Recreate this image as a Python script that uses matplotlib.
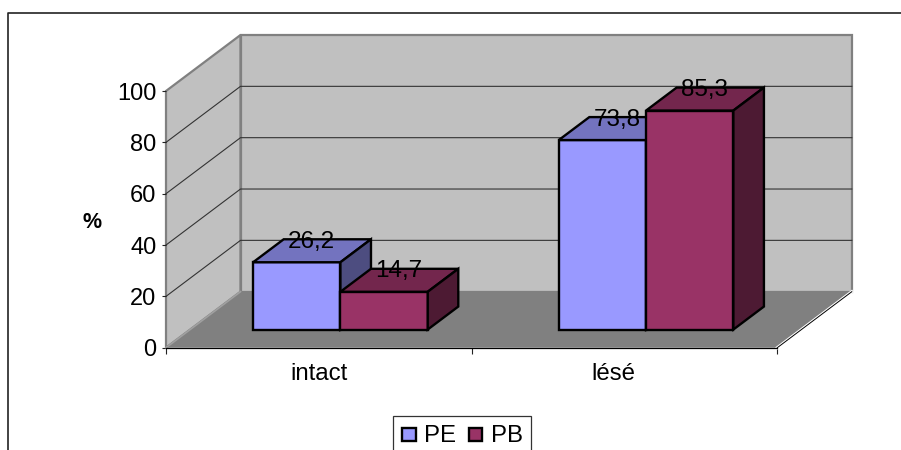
import matplotlib
matplotlib.use("Agg")
import matplotlib.pyplot as plt
from matplotlib.patches import Polygon, Rectangle
from matplotlib.lines import Line2D

plt.rcParams['font.family'] = ['Liberation Sans', 'DejaVu Sans']

categories = ['intact', 'lésé']
series_names = ['PE', 'PB']
pe_values = [26.2, 73.8]
pb_values = [14.7, 85.3]
value_labels_pe = ['26,2', '73,8']
value_labels_pb = ['14,7', '85,3']
y_ticks = [0, 20, 40, 60, 80, 100]

W, H = 901, 450
fig = plt.figure(figsize=(W / 100, H / 100), dpi=100)
L, R, T, B = 166, 777.3, 91, 347.7
ax = fig.add_axes([L / W, 1 - B / H, (R - L) / W, (B - T) / H])
ax.set_xlim(0, 2)
ax.set_ylim(0, 100)

PX = (R - L) / 2        # px per category
PY = (B - T) / 100      # px per value unit
DX, DY = 74.5, 56       # full depth in pixels


def proj(x, y, d=0.0):
    return (x + d * DX / PX, y + d * DY / PY)


def poly(points, face, edge='none', lw=0, z=1):
    ax.add_patch(Polygon(points, closed=True, facecolor=face, edgecolor=edge,
                         linewidth=lw, joinstyle='miter', clip_on=False, zorder=z))


WALL, FLOOR, GRID = '#C0C0C0', '#808080', '#333333'
# walls
poly([proj(0, 0), proj(0, 0, 1), proj(0, 100, 1), proj(0, 100)], WALL, FLOOR, 1.6, 1)
poly([proj(0, 0, 1), proj(2, 0, 1), proj(2, 100, 1), proj(0, 100, 1)], WALL, FLOOR, 1.6, 1)
# gridlines
for v in y_ticks[1:-1]:
    p = [proj(0, v), proj(0, v, 1), proj(2, v, 1)]
    ax.plot(*zip(*p), color=GRID, lw=0.8, clip_on=False, zorder=1.5)
# floor
poly([proj(0, 0), proj(0, 0, 1), proj(2, 0, 1), proj(2, 0)], FLOOR, z=2)
ax.plot(*zip(proj(0, 0), proj(0, 0, 1)), color='#A0A0A0', lw=1.2, clip_on=False, zorder=2.1)
ax.plot(*zip(proj(0, 0), proj(2, 0)), color='black', lw=0.9, clip_on=False, zorder=2.2)
ax.plot(*zip(proj(2, 0), proj(2, 0, 1)), color='white', lw=2.2, clip_on=False, zorder=2.1)
ax.plot(*zip(proj(2, 0), proj(2, 0, 1)), color='black', lw=0.7, clip_on=False, zorder=2.2)

# bars
D0, D1 = 0.325, 0.735
BW = 87.3 / PX
COL = {'PE': ('#9999FF', '#7373BF', '#4D4D80'), 'PB': ('#993366', '#73264D', '#4D1A33')}


def bar(x0, v, cols, z):
    x1 = x0 + BW
    poly([proj(x0, 0, D0), proj(x1, 0, D0), proj(x1, v, D0), proj(x0, v, D0)], cols[0], 'black', 1.7, z)
    poly([proj(x0, v, D0), proj(x1, v, D0), proj(x1, v, D1), proj(x0, v, D1)], cols[1], 'black', 1.7, z)
    poly([proj(x1, 0, D0), proj(x1, 0, D1), proj(x1, v, D1), proj(x1, v, D0)], cols[2], 'black', 1.7, z)


for i in range(len(categories)):
    c = i + 0.4915
    bar(c - BW, pe_values[i], COL['PE'], 3 + i)
    bar(c, pb_values[i], COL['PB'], 3.5 + i)
    for x0, v, s in ((c - BW, pe_values[i], value_labels_pe[i]), (c, pb_values[i], value_labels_pb[i])):
        tx = proj(x0 + BW / 2, v, (D0 + D1) / 2)[0]
        ty = proj(x0, v, D1)[1]
        ax.annotate(s, (tx, ty), xytext=(-0.5, -1.8), textcoords='offset points',
                    ha='center', va='center', fontsize=17.5, color='black',
                    zorder=10, annotation_clip=False)

# axes
for s in ax.spines.values():
    s.set_visible(False)
ax.patch.set_visible(False)
ax.set_yticks(y_ticks)
ax.tick_params(axis='y', length=3, width=0.8, pad=4, labelsize=17, color='#222222')
ax.set_xticks([0, 1, 2])
ax.set_xticklabels([])
ax.tick_params(axis='x', which='major', length=4, width=0.8, color='#222222')
ax.set_xticks([0.5, 1.463], minor=True)
ax.set_xticklabels(categories, minor=True, fontsize=17.3)
ax.tick_params(axis='x', which='minor', length=0, pad=11)

# y title, frame and legend in pixel positions
fig.text(92.5 / W, 1 - 222.5 / H, '%', fontsize=15.5, fontweight='bold', ha='center', va='center')
fig.add_artist(Line2D([8.2 / W, 8.2 / W, 1], [0, 1 - 13 / H, 1 - 13 / H], color='#222222', lw=1.2))


def fig_rect(x0, y0, x1, y1, face, edge, lw):
    fig.add_artist(Rectangle((x0 / W, 1 - y1 / H), (x1 - x0) / W, (y1 - y0) / H,
                             facecolor=face, edgecolor=edge, linewidth=lw,
                             transform=fig.transFigure))


fig_rect(393.3, 415.7, 531.3, 456, 'white', '#333333', 0.9)
for x0, name in zip((402, 468.5), series_names):
    fig_rect(x0, 427.5, x0 + 13.5, 441, COL[name][0], 'black', 1.7)
    fig.text((x0 + 22.5) / W, 1 - 435.5 / H, name, fontsize=17.3, ha='left', va='center')

fig.savefig('out.png', dpi=100)
